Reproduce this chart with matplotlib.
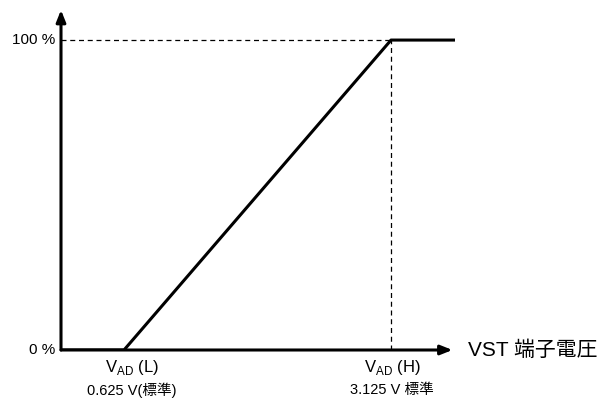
import matplotlib.pyplot as plt

plt.rcParams['font.family'] = ['Liberation Sans', 'Noto Sans CJK JP']
plt.rcParams['mathtext.fontset'] = 'custom'
plt.rcParams['mathtext.rm'] = 'Liberation Sans'

# output curve (V, %)
volts = [0.035, 0.625, 3.125, 3.724]
duty = [0, 0, 100, 100]
v_low, v_high = 0.625, 3.125
y_ticks = [0, 100]
y_tick_labels = ['0 %', '100 %']
x_label = 'VST 端子電圧'
low_labels = ['V$_{\\mathrm{AD}}$ (L)', '0.625 V(標準)']
high_labels = ['V$_{\\mathrm{AD}}$ (H)', '3.125 V 標準']

fig = plt.figure(figsize=(6.13, 4.0), dpi=100)
ax = fig.add_axes([61 / 613, 50 / 400, 394 / 613, 340 / 400])
ax.set_xlim(0.035, 3.724)
ax.set_ylim(0, 109.7)
ax.axis('off')

# axes with arrows
arrow = dict(arrowstyle='-|>,head_length=0.7,head_width=0.28', lw=2.2, color='k',
             mutation_scale=10, shrinkA=0, shrinkB=0)
ax.annotate('', xy=(0.035, 109.7), xytext=(0.035, 0), arrowprops=arrow)
ax.annotate('', xy=(3.70, 0), xytext=(0.035, 0), arrowprops=arrow)

# guides
ax.plot([0.035, v_high], [100, 100], color='k', lw=0.9, ls=(0, (4, 3)))
ax.plot([v_high, v_high], [0, 100], color='k', lw=0.9, ls=(0, (4, 3)))

ax.plot(volts, duty, color='k', lw=2.2, solid_capstyle='butt')

for y, lab in zip(y_ticks, y_tick_labels):
    ax.text(-0.02, y, lab, ha='right', va='center', fontsize=11)

ax.text(3.85, 0, x_label, ha='left', va='center', fontsize=15)

ax.text(v_low + 0.07, -5.8, low_labels[0], ha='center', va='center', fontsize=12)
ax.text(v_low + 0.07, -12.9, low_labels[1], ha='center', va='center', fontsize=10.5)
ax.text(v_high + 0.01, -5.8, high_labels[0], ha='center', va='center', fontsize=12)
ax.text(v_high + 0.01, -12.9, high_labels[1], ha='center', va='center', fontsize=10.5)

fig.savefig('out.png', dpi=100)
